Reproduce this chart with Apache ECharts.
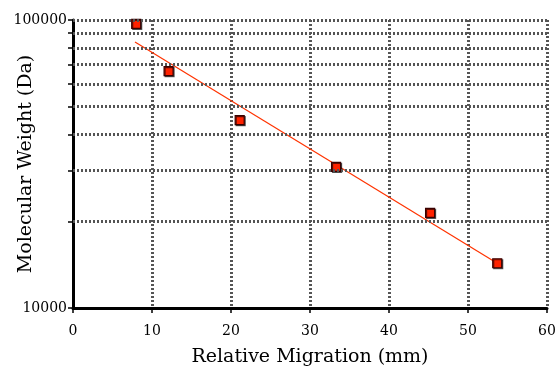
<!DOCTYPE html>
<html><head><meta charset="utf-8">
<script src="https://cdn.jsdelivr.net/npm/echarts@6/dist/echarts.min.js"></script>
<style>html,body{margin:0;padding:0;background:#fff}#c{width:558px;height:370px}</style>
</head><body><div id="c"></div>
<script>
const migration = [8, 12.1, 21.1, 33.3, 45.2, 53.7];
const weights = [96900, 66500, 44900, 30900, 21400, 14300];
const fitX = [7.85, 53.7];
const fitY = [83900, 14300];
const yGrid = [20000, 30000, 40000, 50000, 60000, 70000, 80000, 90000, 100000];
const yLabels = [10000, 100000];
const xTicks = [0, 10, 20, 30, 40, 50, 60];

const font = '"DejaVu Serif", "Liberation Serif", serif';
const gridStyle = {color: '#555', width: 3, type: [2, 2]};
const chart = echarts.init(document.getElementById('c'));
chart.setOption({
  animation: false,
  grid: {left: 73, right: 11, top: 20, bottom: 62, containLabel: false, outerBoundsMode: 'none'},
  xAxis: {
    type: 'value', min: 0, max: 60, interval: 10,
    name: 'Relative Migration (mm)', nameLocation: 'middle', nameGap: 40, nameMoveOverlap: false,
    nameTextStyle: {fontFamily: font, fontSize: 19, color: '#000'},
    axisLine: {lineStyle: {color: '#000', width: 3}},
    axisTick: {inside: false, length: 5, customValues: xTicks, lineStyle: {color: '#000', width: 1.5}},
    axisLabel: {fontFamily: font, fontSize: 14, color: '#000', margin: 16, customValues: xTicks},
    splitLine: {show: true, lineStyle: gridStyle}
  },
  yAxis: {
    type: 'log', logBase: 10, min: 10000, max: 100000,
    name: 'Molecular Weight (Da)', nameLocation: 'middle', nameGap: 37, nameMoveOverlap: false,
    nameTextStyle: {fontFamily: font, fontSize: 19, color: '#000'},
    axisLine: {show: true, lineStyle: {color: '#000', width: 3}},
    axisTick: {show: true, length: 5, customValues: [10000].concat(yGrid), lineStyle: {color: '#000', width: 1.5}},
    axisLabel: {fontFamily: font, fontSize: 14, color: '#000', margin: 6, customValues: yLabels,
      formatter: v => String(Math.round(v))},
    splitLine: {show: false}
  },
  series: [
    {
      type: 'line', data: fitX.map((x, i) => [x, fitY[i]]), symbol: 'none',
      lineStyle: {color: '#ff3300', width: 1.2}, z: 3,
      markLine: {
        silent: true, symbol: 'none', label: {show: false},
        lineStyle: gridStyle,
        data: yGrid.map(v => ({yAxis: v}))
      }
    },
    {
      type: 'scatter', data: migration.map((x, i) => [x, weights[i]]),
      symbol: 'rect', symbolSize: 9, z: 4,
      itemStyle: {color: '#ff2200', borderColor: '#3a0000', borderWidth: 1.2, opacity: 1,
        shadowColor: 'rgba(0,0,0,0.6)', shadowOffsetX: 1, shadowOffsetY: 1, shadowBlur: 0}
    }
  ]
});
</script></body></html>
